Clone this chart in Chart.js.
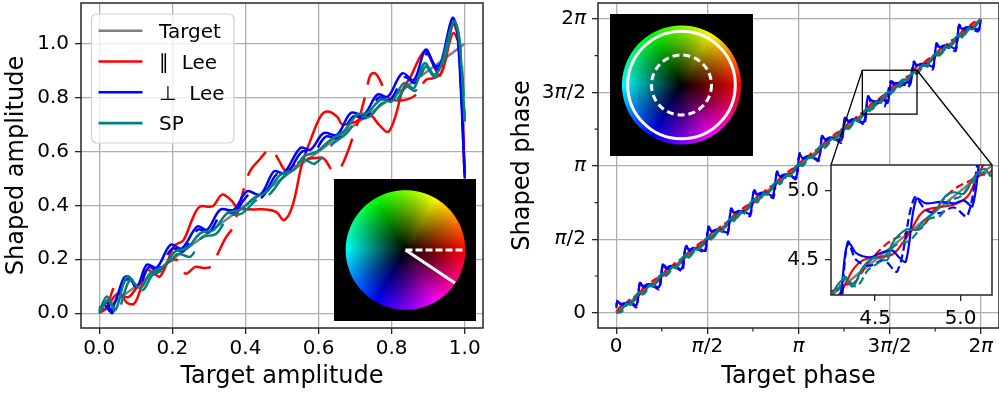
<!DOCTYPE html>
<html>
<head>
<meta charset="utf-8">
<script src="https://cdn.jsdelivr.net/npm/chart.js@4.4.1/dist/chart.umd.min.js"></script>
<style>
  html, body { margin: 0; padding: 0; background: #fff; }
  #wrap { position: relative; width: 999px; height: 394px; overflow: hidden; }
  #wrap canvas { position: absolute; }
</style>
</head>
<body>
<div id="wrap">
  <canvas id="amp" width="500" height="394" style="left:0;top:0"></canvas>
  <canvas id="phase" width="499" height="394" style="left:500px;top:0"></canvas>
  <canvas id="zoom" width="219" height="195" style="left:780px;top:150px"></canvas>
  <canvas id="wheelAmp" width="142" height="142" style="left:334px;top:179px"></canvas>
  <canvas id="wheelPhase" width="143" height="142" style="left:610px;top:14px"></canvas>
</div>
<script>
const TAU = 2 * Math.PI;

// tick labels
const ampTicks = [0, 0.2, 0.4, 0.6, 0.8, 1.0];
const phaseTicks = [0, TAU / 8, TAU / 4, 3 * TAU / 8, TAU / 2, 5 * TAU / 8, 3 * TAU / 4, 7 * TAU / 8, TAU];
const phaseTickLabels = ['0', '', 'π/2', '', 'π', '', '3π/2', '', '2π'];
const zoomTicks = [4.5, 5.0];

// legend
const seriesNames = ['Target', '∥  Lee', '⊥  Lee', 'SP'];
const seriesColors = ['#808080', '#ff0000', '#0000ff', '#008080'];

// amplitude panel, [target, shaped]
const ampTarget = [[0, 0], [1, 1]];
const ampParSolid = [[0.00,0.01],[0.02,0.02],[0.04,0.06],[0.055,0.075],[0.075,0.04],[0.095,0.035],[0.112,0.085],[0.13,0.16],[0.15,0.148],[0.165,0.135],[0.185,0.185],[0.205,0.25],[0.23,0.27],[0.255,0.35],[0.275,0.395],[0.31,0.397],[0.336,0.44],[0.36,0.42],[0.38,0.39],[0.42,0.385],[0.455,0.385],[0.485,0.375],[0.505,0.345],[0.528,0.395],[0.555,0.556],[0.578,0.642],[0.605,0.729],[0.624,0.748],[0.651,0.729],[0.665,0.70],[0.70,0.71],[0.74,0.735],[0.765,0.70],[0.79,0.673],[0.81,0.729],[0.83,0.828],[0.852,0.878],[0.889,0.971],[0.911,0.934],[0.93,0.88],[0.948,0.94],[0.962,1.05],[0.97,1.076],[0.984,1.0],[1.0,0.52]];
const ampParDashed = [[0.00,0.00],[0.02,0.02],[0.035,0.08],[0.045,0.10],[0.06,0.07],[0.08,0.06],[0.10,0.09],[0.13,0.14],[0.16,0.15],[0.19,0.19],[0.213,0.197],[0.236,0.147],[0.263,0.172],[0.285,0.168],[0.304,0.172],[0.345,0.278],[0.367,0.322],[0.40,0.482],[0.414,0.531],[0.441,0.574],[0.458,0.60],[0.473,0.606],[0.491,0.568],[0.51,0.53],[0.535,0.55],[0.555,0.568],[0.585,0.575],[0.614,0.574],[0.637,0.531],[0.655,0.531],[0.678,0.593],[0.697,0.667],[0.715,0.741],[0.73,0.82],[0.742,0.884],[0.755,0.89],[0.77,0.859],[0.79,0.80],[0.83,0.79],[0.866,0.81],[0.893,0.865],[0.915,0.872],[0.935,0.89],[0.955,0.99],[0.97,1.04],[0.985,0.98],[1.0,0.5]];
const ampPerpSolid = [[0.00,0.019],[0.015,0.03],[0.03,0.006],[0.044,0.043],[0.067,0.13],[0.08,0.136],[0.103,0.099],[0.13,0.18],[0.158,0.17],[0.195,0.254],[0.226,0.24],[0.268,0.322],[0.295,0.31],[0.331,0.384],[0.368,0.384],[0.404,0.452],[0.441,0.44],[0.478,0.526],[0.505,0.52],[0.55,0.613],[0.578,0.607],[0.614,0.668],[0.651,0.662],[0.688,0.743],[0.724,0.737],[0.761,0.811],[0.79,0.804],[0.829,0.89],[0.861,0.866],[0.893,0.978],[0.92,0.916],[0.935,0.93],[0.966,1.095],[0.98,1.04],[1.0,0.514]];
const ampPerpDashed = [[0.00,0.01],[0.02,0.04],[0.035,0.00],[0.05,0.06],[0.07,0.12],[0.085,0.125],[0.105,0.09],[0.135,0.17],[0.16,0.16],[0.20,0.24],[0.23,0.23],[0.27,0.31],[0.30,0.30],[0.335,0.37],[0.37,0.375],[0.41,0.44],[0.445,0.43],[0.485,0.515],[0.51,0.51],[0.555,0.60],[0.585,0.595],[0.62,0.655],[0.655,0.65],[0.695,0.73],[0.73,0.725],[0.765,0.80],[0.795,0.79],[0.835,0.875],[0.865,0.855],[0.897,0.965],[0.922,0.905],[0.94,0.93],[0.968,1.08],[0.982,1.03],[1.0,0.5]];
const ampSpSolid = [[0.00,0.006],[0.021,0.062],[0.044,0.012],[0.076,0.136],[0.112,0.093],[0.14,0.149],[0.176,0.173],[0.208,0.229],[0.24,0.241],[0.277,0.297],[0.313,0.309],[0.35,0.371],[0.386,0.384],[0.423,0.427],[0.459,0.452],[0.496,0.514],[0.532,0.532],[0.56,0.582],[0.596,0.60],[0.633,0.644],[0.669,0.675],[0.706,0.737],[0.733,0.743],[0.77,0.792],[0.80,0.786],[0.834,0.854],[0.861,0.835],[0.89,0.928],[0.916,0.885],[0.934,0.916],[0.97,1.083],[0.985,1.015],[1.0,0.711]];
const ampSpDashed = [[0.00,0.00],[0.025,0.05],[0.048,0.00],[0.085,0.125],[0.118,0.085],[0.145,0.14],[0.18,0.165],[0.215,0.22],[0.25,0.21],[0.28,0.28],[0.32,0.295],[0.355,0.36],[0.39,0.37],[0.43,0.42],[0.465,0.44],[0.50,0.50],[0.53,0.54],[0.56,0.57],[0.59,0.555],[0.64,0.63],[0.675,0.665],[0.71,0.725],[0.74,0.73],[0.775,0.78],[0.805,0.775],[0.84,0.84],[0.865,0.825],[0.893,0.915],[0.918,0.875],[0.936,0.905],[0.972,1.075],[0.987,1.0],[1.0,0.72]];

// phase panel, [target, shaped] in radians
const phTarget = [[0, 0], [6.283, 6.283]];
const phParSolid = [[0.00,0.00],[0.08,0.14],[0.20,0.21],[0.31,0.26],[0.39,0.39],[0.47,0.53],[0.59,0.60],[0.70,0.65],[0.79,0.79],[0.87,0.93],[0.99,1.00],[1.10,1.05],[1.18,1.18],[1.26,1.32],[1.38,1.39],[1.49,1.44],[1.57,1.57],[1.65,1.71],[1.77,1.78],[1.88,1.83],[1.96,1.96],[2.04,2.10],[2.16,2.17],[2.27,2.22],[2.36,2.36],[2.44,2.50],[2.56,2.57],[2.67,2.62],[2.75,2.75],[2.83,2.89],[2.95,2.96],[3.06,3.01],[3.14,3.14],[3.22,3.28],[3.34,3.35],[3.45,3.40],[3.53,3.53],[3.61,3.67],[3.73,3.74],[3.84,3.79],[3.93,3.93],[4.01,4.07],[4.13,4.14],[4.24,4.20],[4.30,4.27],[4.37,4.43],[4.43,4.50],[4.51,4.52],[4.60,4.54],[4.66,4.62],[4.72,4.74],[4.78,4.85],[4.86,4.88],[4.96,4.90],[5.04,4.96],[5.08,5.05],[5.12,5.16],[5.19,5.28],[5.30,5.32],[5.41,5.37],[5.50,5.50],[5.58,5.64],[5.70,5.71],[5.81,5.76],[5.89,5.89],[5.97,6.03],[6.09,6.10],[6.20,6.15],[6.28,6.28]];
const phParDashed = [[0.00,0.00],[0.06,0.02],[0.14,0.16],[0.25,0.30],[0.34,0.36],[0.39,0.39],[0.45,0.41],[0.53,0.55],[0.64,0.69],[0.73,0.75],[0.79,0.79],[0.85,0.81],[0.93,0.95],[1.04,1.09],[1.13,1.15],[1.18,1.18],[1.24,1.20],[1.32,1.34],[1.43,1.48],[1.52,1.54],[1.57,1.57],[1.63,1.59],[1.71,1.73],[1.82,1.87],[1.91,1.93],[1.96,1.96],[2.02,1.98],[2.10,2.12],[2.21,2.26],[2.30,2.32],[2.36,2.36],[2.42,2.38],[2.50,2.52],[2.61,2.66],[2.70,2.72],[2.75,2.75],[2.81,2.77],[2.89,2.91],[3.00,3.05],[3.09,3.11],[3.14,3.14],[3.20,3.16],[3.28,3.30],[3.39,3.44],[3.48,3.50],[3.53,3.53],[3.59,3.55],[3.67,3.69],[3.78,3.83],[3.87,3.89],[3.93,3.93],[3.99,3.95],[4.07,4.09],[4.18,4.23],[4.27,4.29],[4.32,4.32],[4.38,4.34],[4.46,4.48],[4.57,4.62],[4.66,4.68],[4.71,4.71],[4.77,4.73],[4.85,4.87],[4.96,5.01],[5.05,5.07],[5.11,5.11],[5.17,5.13],[5.25,5.27],[5.36,5.41],[5.45,5.47],[5.50,5.50],[5.56,5.52],[5.64,5.66],[5.75,5.80],[5.84,5.86],[5.89,5.89],[5.95,5.91],[6.03,6.05],[6.14,6.19],[6.23,6.25],[6.28,6.28]];
const phPerpSolid = [[0.00,0.15],[0.02,0.24],[0.08,0.19],[0.18,0.21],[0.28,0.20],[0.35,0.16],[0.41,0.64],[0.46,0.57],[0.55,0.61],[0.65,0.58],[0.74,0.55],[0.80,1.03],[0.85,0.96],[0.94,1.00],[1.04,0.97],[1.13,0.94],[1.20,1.42],[1.25,1.35],[1.34,1.39],[1.44,1.36],[1.53,1.33],[1.59,1.82],[1.64,1.74],[1.73,1.78],[1.83,1.75],[1.92,1.72],[1.98,2.21],[2.03,2.14],[2.12,2.18],[2.22,2.15],[2.31,2.12],[2.37,2.60],[2.42,2.53],[2.51,2.57],[2.61,2.54],[2.70,2.51],[2.77,2.99],[2.82,2.92],[2.91,2.96],[3.01,2.93],[3.10,2.90],[3.16,3.39],[3.21,3.31],[3.30,3.35],[3.40,3.32],[3.49,3.29],[3.55,3.78],[3.60,3.71],[3.69,3.75],[3.79,3.72],[3.88,3.69],[3.94,4.17],[3.99,4.10],[4.08,4.14],[4.18,4.11],[4.27,4.08],[4.33,4.58],[4.35,4.62],[4.39,4.55],[4.47,4.52],[4.53,4.55],[4.60,4.57],[4.64,4.52],[4.68,4.49],[4.74,4.94],[4.80,4.91],[4.88,4.92],[4.96,4.91],[5.02,4.93],[5.07,4.89],[5.13,5.34],[5.18,5.30],[5.28,5.33],[5.38,5.30],[5.46,5.27],[5.52,5.75],[5.57,5.68],[5.66,5.72],[5.76,5.69],[5.85,5.66],[5.91,6.14],[5.96,6.07],[6.05,6.11],[6.16,6.08],[6.25,6.07],[6.28,6.28]];
const phPerpDashed = [[0.00,0.10],[0.03,0.28],[0.08,0.17],[0.17,0.19],[0.27,0.18],[0.35,0.12],[0.41,0.66],[0.47,0.55],[0.56,0.58],[0.66,0.55],[0.74,0.50],[0.81,1.05],[0.87,0.94],[0.96,0.97],[1.06,0.94],[1.14,0.89],[1.20,1.44],[1.26,1.33],[1.35,1.36],[1.45,1.33],[1.53,1.28],[1.59,1.84],[1.65,1.73],[1.74,1.76],[1.84,1.73],[1.92,1.68],[1.98,2.23],[2.04,2.12],[2.13,2.15],[2.23,2.12],[2.31,2.07],[2.38,2.62],[2.44,2.51],[2.53,2.54],[2.63,2.51],[2.71,2.46],[2.77,3.02],[2.83,2.91],[2.92,2.94],[3.02,2.91],[3.10,2.86],[3.16,3.41],[3.22,3.30],[3.31,3.33],[3.41,3.30],[3.49,3.25],[3.55,3.80],[3.61,3.69],[3.70,3.72],[3.80,3.69],[3.88,3.64],[3.95,4.19],[4.01,4.08],[4.10,4.11],[4.20,4.08],[4.28,4.03],[4.34,4.63],[4.39,4.50],[4.47,4.46],[4.55,4.50],[4.63,4.42],[4.73,4.95],[4.80,4.86],[4.88,4.84],[4.96,4.88],[5.04,4.82],[5.13,5.37],[5.19,5.26],[5.28,5.29],[5.38,5.26],[5.46,5.21],[5.52,5.76],[5.58,5.65],[5.67,5.68],[5.77,5.65],[5.85,5.60],[5.91,6.16],[5.97,6.05],[6.06,6.08],[6.16,6.05],[6.24,6.02],[6.28,6.26]];
const phSpSolid = [[0.00,0.00],[0.07,0.03],[0.18,0.20],[0.25,0.17],[0.35,0.39],[0.42,0.44],[0.46,0.39],[0.57,0.59],[0.64,0.56],[0.74,0.78],[0.82,0.84],[0.86,0.79],[0.97,0.99],[1.04,0.96],[1.14,1.18],[1.21,1.23],[1.25,1.18],[1.36,1.38],[1.43,1.35],[1.53,1.57],[1.60,1.62],[1.64,1.57],[1.75,1.77],[1.82,1.74],[1.92,1.96],[1.99,2.01],[2.03,1.96],[2.14,2.16],[2.21,2.13],[2.31,2.35],[2.39,2.41],[2.43,2.36],[2.54,2.56],[2.61,2.53],[2.71,2.75],[2.78,2.80],[2.82,2.75],[2.93,2.95],[3.00,2.92],[3.10,3.14],[3.17,3.19],[3.21,3.14],[3.32,3.34],[3.39,3.31],[3.49,3.53],[3.56,3.58],[3.60,3.53],[3.71,3.73],[3.78,3.70],[3.88,3.92],[3.96,3.98],[4.00,3.93],[4.11,4.13],[4.18,4.10],[4.28,4.32],[4.33,4.36],[4.37,4.31],[4.43,4.45],[4.50,4.52],[4.57,4.50],[4.60,4.62],[4.68,4.72],[4.74,4.72],[4.78,4.78],[4.85,4.85],[4.91,4.96],[4.96,4.99],[5.02,4.98],[5.08,5.10],[5.14,5.16],[5.18,5.11],[5.29,5.31],[5.36,5.28],[5.46,5.50],[5.53,5.55],[5.57,5.50],[5.68,5.70],[5.75,5.67],[5.85,5.89],[5.92,5.94],[5.96,5.89],[6.07,6.09],[6.14,6.06],[6.28,6.28]];
const phSpDashed = [[0.00,0.02],[0.08,0.01],[0.19,0.17],[0.26,0.21],[0.36,0.37],[0.43,0.47],[0.47,0.40],[0.58,0.56],[0.65,0.60],[0.75,0.76],[0.83,0.87],[0.87,0.80],[0.98,0.96],[1.05,1.00],[1.15,1.16],[1.22,1.26],[1.26,1.19],[1.37,1.35],[1.44,1.39],[1.54,1.55],[1.61,1.65],[1.65,1.58],[1.76,1.74],[1.83,1.78],[1.93,1.94],[2.00,2.04],[2.04,1.97],[2.15,2.13],[2.22,2.17],[2.32,2.33],[2.40,2.44],[2.44,2.37],[2.55,2.53],[2.62,2.57],[2.72,2.73],[2.79,2.83],[2.83,2.76],[2.94,2.92],[3.01,2.96],[3.11,3.12],[3.18,3.22],[3.22,3.15],[3.33,3.31],[3.40,3.35],[3.50,3.51],[3.57,3.61],[3.61,3.54],[3.72,3.70],[3.79,3.74],[3.89,3.90],[3.97,4.01],[4.01,3.94],[4.12,4.10],[4.19,4.14],[4.29,4.30],[4.32,4.38],[4.39,4.31],[4.46,4.43],[4.53,4.49],[4.61,4.60],[4.70,4.64],[4.76,4.72],[4.82,4.80],[4.88,4.82],[4.94,4.93],[5.00,4.96],[5.06,5.05],[5.12,5.13],[5.19,5.12],[5.30,5.28],[5.37,5.32],[5.47,5.48],[5.54,5.58],[5.58,5.51],[5.69,5.67],[5.76,5.71],[5.86,5.87],[5.93,5.97],[5.97,5.90],[6.08,6.06],[6.15,6.10],[6.28,6.27]];

// inset zoom window [x0, x1, y0, y1]
const zoomWindow = [4.242, 5.184, 4.248, 5.187];

Chart.defaults.font.family = "'DejaVu Sans', sans-serif";
Chart.defaults.color = '#000';

const pts = a => a.map(([x, y]) => ({ x, y }));

function line(data, color, dash, order, width) {
  return {
    data: pts(data), borderColor: color, borderWidth: width, borderDash: dash,
    pointRadius: 0, tension: 0.35, fill: false, order
  };
}

const GRID = '#b0b0b0';
const INK = '#262626';
const FONT = "'DejaVu Sans'";

const frame = {
  id: 'frame',
  afterDatasetsDraw(chart) {
    const { ctx, chartArea: a } = chart;
    ctx.save();
    ctx.strokeStyle = INK;
    ctx.lineWidth = 1.5;
    ctx.strokeRect(a.left, a.top, a.right - a.left, a.bottom - a.top);
    ctx.restore();
  }
};

const whiteArea = {
  id: 'whiteArea',
  beforeDatasetsDraw(chart) {
    const { ctx, chartArea: a } = chart;
    ctx.save();
    ctx.fillStyle = '#fff';
    ctx.fillRect(a.left, a.top, a.right - a.left, a.bottom - a.top);
    ctx.restore();
  }
};

// minor ticks and mathtext-like labels (italic pi) on the phase axes
function piText(ctx, text, x, y, align, base) {
  const parts = text.split(/(π)/).filter(Boolean);
  const fonts = parts.map(p => (p === 'π' ? 'italic 20px ' : '20px ') + FONT);
  const widths = parts.map((p, i) => { ctx.font = fonts[i]; return ctx.measureText(p).width; });
  const total = widths.reduce((s, w) => s + w, 0);
  let cx = align === 'right' ? x - total : x - total / 2;
  ctx.textBaseline = base;
  ctx.textAlign = 'left';
  parts.forEach((p, i) => { ctx.font = fonts[i]; ctx.fillText(p, cx, y); cx += widths[i]; });
}

const piAxes = {
  id: 'piAxes',
  afterDraw(chart) {
    const { ctx, chartArea: a, scales: { x, y } } = chart;
    ctx.save();
    ctx.strokeStyle = INK;
    ctx.lineWidth = 1.2;
    ctx.beginPath();
    phaseTicks.forEach((v, i) => {
      if (i % 2 === 0) return;
      const px = x.getPixelForValue(v), py = y.getPixelForValue(v);
      ctx.moveTo(px, a.bottom); ctx.lineTo(px, a.bottom + 3.5);
      ctx.moveTo(a.left, py); ctx.lineTo(a.left - 3.5, py);
    });
    ctx.stroke();
    ctx.fillStyle = '#000';
    phaseTicks.forEach((v, i) => {
      if (!phaseTickLabels[i]) return;
      piText(ctx, phaseTickLabels[i], x.getPixelForValue(v), a.bottom + 9, 'center', 'top');
      piText(ctx, phaseTickLabels[i], a.left - 12, y.getPixelForValue(v), 'right', 'middle');
    });
    ctx.restore();
  }
};

const legendBox = {
  id: 'legendBox',
  afterDraw(chart) {
    const ctx = chart.ctx;
    const bx = 91.5, by = 14, bw = 142.5, bh = 129;
    ctx.save();
    ctx.beginPath();
    ctx.roundRect(bx, by, bw, bh, 5);
    ctx.fillStyle = 'rgba(255,255,255,0.8)';
    ctx.fill();
    ctx.strokeStyle = '#d0d0d0';
    ctx.lineWidth = 1.2;
    ctx.stroke();
    ctx.font = '20px ' + FONT;
    ctx.textBaseline = 'alphabetic';
    seriesNames.forEach((name, i) => {
      const yy = by + 16.7 + i * 30.8;
      ctx.strokeStyle = seriesColors[i];
      ctx.lineWidth = 2.6;
      ctx.beginPath();
      ctx.moveTo(bx + 7, yy); ctx.lineTo(bx + 51, yy);
      ctx.stroke();
      ctx.fillStyle = '#000';
      ctx.fillText(name, bx + 67.5, yy + 7.3);
    });
    ctx.restore();
  }
};

function valueAxis(o) {
  return {
    type: 'linear', min: o.min, max: o.max,
    afterBuildTicks: s => { s.ticks = o.ticks.map(v => ({ value: v })); },
    afterFit: s => {
      if (o.width) s.width = o.width;
      if (o.height) s.height = o.height;
      s.paddingLeft = 0; s.paddingRight = 0; s.paddingTop = 0; s.paddingBottom = 0;
    },
    ticks: {
      font: { size: 20 }, color: '#000', padding: o.pad, autoSkip: false,
      maxRotation: 0, minRotation: 0, callback: o.label
    },
    grid: {
      drawOnChartArea: o.grid !== false,
      color: o.gridColor || GRID, lineWidth: 1.3,
      tickLength: 6, tickWidth: 1.3, tickColor: o.tickColor || INK
    },
    border: { display: false },
    title: o.title ? { display: true, text: o.title, font: { size: 24 }, padding: o.titlePad } : { display: false }
  };
}

const baseOpts = {
  responsive: false, animation: false, devicePixelRatio: 1,
  plugins: { legend: { display: false }, tooltip: { enabled: false } }
};

// amplitude chart
new Chart(document.getElementById('amp'), {
  type: 'line',
  data: {
    datasets: [
      line(ampTarget, seriesColors[0], [], 10, 2.5),
      line(ampParSolid, seriesColors[1], [], 9, 2.5),
      line(ampParDashed, seriesColors[1], [30, 13], 8, 2.5),
      line(ampPerpSolid, seriesColors[2], [], 7, 2.5),
      line(ampPerpDashed, seriesColors[2], [30, 13], 6, 2.5),
      line(ampSpSolid, seriesColors[3], [], 5, 2.5),
      line(ampSpDashed, seriesColors[3], [30, 13], 4, 2.5)
    ]
  },
  options: {
    ...baseOpts,
    layout: { padding: { left: 0, right: 17, top: 3, bottom: 0 } },
    scales: {
      x: valueAxis({ min: -0.05, max: 1.05, ticks: ampTicks, height: 66, pad: 3,
        label: v => v.toFixed(1), title: 'Target amplitude', titlePad: { top: 0, bottom: 3 } }),
      y: valueAxis({ min: -0.055, max: 1.151, ticks: ampTicks, width: 81, pad: 6,
        label: v => v.toFixed(1), title: 'Shaped amplitude', titlePad: { top: 2, bottom: 0 } })
    }
  },
  plugins: [frame, legendBox]
});

// inset chart (zoom of phase)
const phaseSets = () => [
  line(phTarget, seriesColors[0], [], 10, 2.5),
  line(phParSolid, seriesColors[1], [], 9, 2.2),
  line(phParDashed, seriesColors[1], [8, 4], 8, 2.2),
  line(phPerpSolid, seriesColors[2], [], 7, 2.2),
  line(phPerpDashed, seriesColors[2], [8, 4], 6, 2.2),
  line(phSpSolid, seriesColors[3], [], 5, 2.2),
  line(phSpDashed, seriesColors[3], [8, 4], 4, 2.2)
];

const zoomChart = new Chart(document.getElementById('zoom'), {
  type: 'line',
  data: { datasets: phaseSets() },
  options: {
    ...baseOpts,
    layout: { padding: { left: 0, right: 7, top: 15, bottom: 0 } },
    scales: {
      x: valueAxis({ min: zoomWindow[0], max: zoomWindow[1], ticks: zoomTicks, height: 50, pad: 6,
        grid: false, label: v => v.toFixed(1) }),
      y: valueAxis({ min: zoomWindow[2], max: zoomWindow[3], ticks: zoomTicks, width: 51, pad: 6,
        grid: false, label: v => v.toFixed(1) })
    }
  },
  plugins: [whiteArea, frame]
});

// zoom rectangle and connectors on the phase chart
const zoomMark = {
  id: 'zoomMark',
  afterDatasetsDraw(chart) {
    const { ctx, scales: { x, y } } = chart;
    const za = zoomChart.chartArea;
    const offX = 780 - 500, offY = 150;
    const l = x.getPixelForValue(zoomWindow[0]), r = x.getPixelForValue(zoomWindow[1]);
    const t = y.getPixelForValue(zoomWindow[3]), b = y.getPixelForValue(zoomWindow[2]);
    ctx.save();
    ctx.strokeStyle = '#000';
    ctx.lineWidth = 1.3;
    ctx.strokeRect(l, t, r - l, b - t);
    ctx.beginPath();
    ctx.moveTo(l, t); ctx.lineTo(za.left + offX, za.top + offY);
    ctx.moveTo(r, t); ctx.lineTo(za.right + offX, za.top + offY);
    ctx.stroke();
    ctx.restore();
  }
};

const piGrid = c => (c.index % 2 ? 'rgba(0,0,0,0)' : GRID);
const piTick = c => (c.index % 2 ? 'rgba(0,0,0,0)' : INK);

new Chart(document.getElementById('phase'), {
  type: 'line',
  data: { datasets: phaseSets() },
  options: {
    ...baseOpts,
    layout: { padding: { left: 0, right: 0, top: 3, bottom: 0 } },
    scales: {
      x: valueAxis({ min: -0.3142, max: 6.5973, ticks: phaseTicks, height: 66, pad: 3,
        gridColor: piGrid, tickColor: piTick,
        label: () => '', title: 'Target phase', titlePad: { top: 0, bottom: 3 } }),
      y: valueAxis({ min: -0.327, max: 6.625, ticks: phaseTicks, width: 98, pad: 6,
        gridColor: piGrid, tickColor: piTick,
        label: () => '', title: 'Shaped phase', titlePad: { top: 8, bottom: 0 } })
    }
  },
  plugins: [frame, piAxes, zoomMark]
});

// colour wheels (hue = angle, brightness = radius)
function hsv(h, s, v) {
  const i = Math.floor(h * 6), f = h * 6 - i;
  const p = v * (1 - s), q = v * (1 - f * s), t = v * (1 - (1 - f) * s);
  return [[v, t, p], [q, v, p], [p, v, t], [p, q, v], [t, p, v], [v, p, q]][i % 6];
}

function drawWheel(id, cx, cy, R) {
  const c = document.getElementById(id), g = c.getContext('2d');
  const img = g.createImageData(c.width, c.height);
  for (let j = 0; j < c.height; j++) {
    for (let i = 0; i < c.width; i++) {
      const dx = i + 0.5 - cx, dy = cy - (j + 0.5), r = Math.hypot(dx, dy);
      const edge = Math.max(0, Math.min(1, R - r + 0.5));
      const h = (Math.atan2(dy, dx) / TAU + 1) % 1;
      const rgb = hsv(h, 1, Math.min(1, r / R));
      const k = (j * c.width + i) * 4;
      img.data[k] = rgb[0] * 255 * edge;
      img.data[k + 1] = rgb[1] * 255 * edge;
      img.data[k + 2] = rgb[2] * 255 * edge;
      img.data[k + 3] = 255;
    }
  }
  g.putImageData(img, 0, 0);
  return g;
}

const ga = drawWheel('wheelAmp', 71.5, 71, 59.8);
ga.strokeStyle = '#fff';
ga.lineWidth = 3;
ga.setLineDash([7, 3]);
ga.beginPath(); ga.moveTo(71.5, 71); ga.lineTo(131.3, 71); ga.stroke();
ga.setLineDash([]);
ga.beginPath(); ga.moveTo(71.5, 71); ga.lineTo(71.5 + 59.5 * Math.cos(0.59), 71 + 59.5 * Math.sin(0.59)); ga.stroke();

const gp = drawWheel('wheelPhase', 71.5, 71, 59.5);
gp.strokeStyle = '#fff';
gp.lineWidth = 3;
gp.beginPath(); gp.arc(71.5, 71, 53.8, 0, TAU); gp.stroke();
gp.setLineDash([7, 4]);
gp.beginPath(); gp.arc(71.5, 71, 30, 0, TAU); gp.stroke();
</script>
</body>
</html>
